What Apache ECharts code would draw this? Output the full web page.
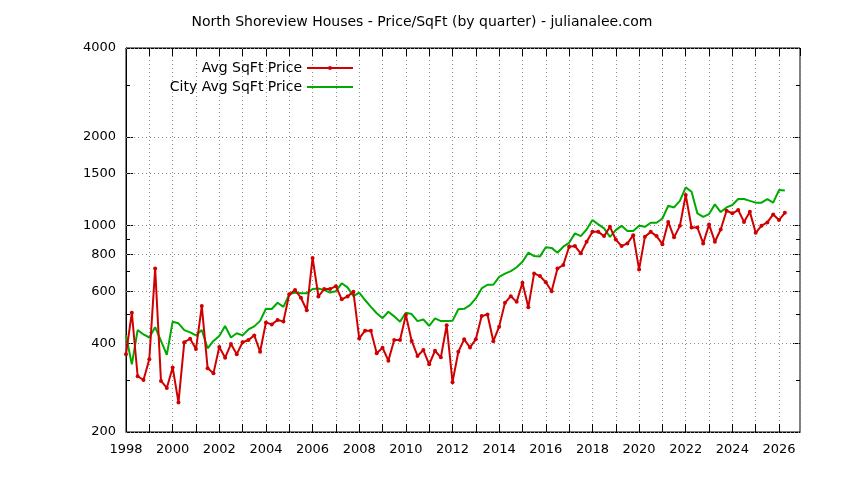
<!DOCTYPE html>
<html>
<head>
<meta charset="utf-8">
<script src="https://cdn.jsdelivr.net/npm/echarts@6/dist/echarts.min.js"></script>
<style>
  html, body { margin: 0; padding: 0; background: #fff; }
  #chart { width: 844px; height: 480px; }
</style>
</head>
<body>
<div id="chart"></div>
<script>
// 季度数据，从 1998 Q1 开始
var firstYear = 1998;

var avgSqftPrice = [
  367, 507, 309, 300,   353, 716, 298, 282,   331, 252, 403, 414,
  382, 534, 329, 316,   388, 357, 397, 367,   403, 410, 425, 374,
  470, 463, 479, 474,   586, 605, 570, 517,   778, 576, 610, 610,
  624, 563, 576, 597,   415, 441, 441, 370,   386, 349, 410, 410,
  498, 407, 362, 379,   339, 377, 358, 460,   295, 374, 412, 387,
  412, 494, 500, 406,   455, 548, 577, 552,   641, 529, 689, 675,
  643, 600, 716, 736,   849, 853, 806, 882,   953, 953, 922, 991,
  898, 853, 871, 929,   711, 917, 953, 922,   866, 1030, 913, 999,
  1270, 986, 986, 871,  1010, 882, 971, 1124, 1101, 1130, 1030, 1114,
  946, 1000, 1026, 1092, 1045, 1106
];

var cityAvgSqftPrice = [
  426, 339, 443, 428,   418, 453, 407, 365,   473, 467, 443, 435,
  425, 443, 384, 407,   423, 457, 418, 432,   425, 445, 456, 476,
  523, 522, 548, 531,   585, 594, 590, 590,   610, 613, 605, 594,
  600, 638, 618, 577,   593, 560, 531, 505,   486, 511, 493, 473,
  507, 502, 475, 481,   458, 485, 475, 475,   476, 521, 523, 538,
  567, 613, 631, 631,   671, 688, 702, 723,   755, 810, 789, 787,
  845, 841, 810, 849,   875, 942, 922, 971,   1045, 1010, 979, 917,
  966, 999, 959, 959,   999, 991, 1023, 1023, 1058, 1168, 1153, 1214,
  1348, 1303, 1101, 1072, 1095, 1181, 1112, 1153, 1175, 1231, 1231, 1214,
  1197, 1197, 1231, 1197, 1320, 1316
];

// 坐标轴刻度
var yLabelTicks = [200, 400, 600, 800, 1000, 1500, 2000, 4000];
var yMinorTicks = [300, 500, 700, 900, 3000];

function toPairs(values) {
  var out = [];
  for (var i = 0; i < values.length; i++) {
    out.push([firstYear + i / 4, values[i]]);
  }
  return out;
}

var FONT = 'DejaVu Sans';
var GRID_COLOR = '#8c8c8c';

function yAxisDef(pos, ticks, len, withLabels) {
  return {
    type: 'log',
    logBase: 10,
    min: 200,
    max: 4000,
    position: pos,
    axisLine: { show: withLabels, lineStyle: { color: '#000', width: 1 } },
    axisTick: { show: true, inside: true, length: len, customValues: ticks, lineStyle: { color: '#000' } },
    axisLabel: {
      show: withLabels,
      customValues: ticks,
      margin: 10,
      color: '#000',
      fontFamily: FONT,
      fontSize: 13,
      formatter: function (v) { return String(Math.round(v)); }
    },
    splitLine: { show: false },
    minorTick: { show: false },
    minorSplitLine: { show: false }
  };
}

function xAxisDef(pos, withLabels) {
  return {
    type: 'value',
    position: pos,
    min: 1998,
    max: 2026.9,
    interval: 1,
    axisLine: { show: true, onZero: false, lineStyle: { color: '#000', width: 1 } },
    axisTick: { show: true, inside: true, length: 8, lineStyle: { color: '#000' } },
    axisLabel: {
      show: withLabels,
      margin: 11,
      color: '#000',
      fontFamily: FONT,
      fontSize: 13,
      showMaxLabel: false,
      formatter: function (v) {
        return (v % 2 === 0) ? String(v) : '';
      }
    },
    splitLine: withLabels
      ? { show: true, lineStyle: { color: GRID_COLOR, width: 1, type: [1, 3] } }
      : { show: false }
  };
}

// 水平网格线（对数轴上用 markLine 画）
var hGridLines = yLabelTicks.map(function (v) { return { yAxis: v }; });

var legendText = { fontFamily: FONT, fontSize: 14, color: '#000' };

var chart = echarts.init(document.getElementById('chart'));
var option = {
  animation: false,
  backgroundColor: '#fff',
  title: {
    text: 'North Shoreview Houses - Price/SqFt (by quarter) - julianalee.com',
    left: 'center',
    top: 10,
    textStyle: { fontFamily: FONT, fontSize: 14, fontWeight: 'normal', color: '#000' }
  },
  legend: [
    {
      data: ['Avg SqFt Price'],
      right: 485,
      top: 56,
      align: 'right',
      itemWidth: 46,
      itemHeight: 5,
      textStyle: legendText
    },
    {
      data: ['City Avg SqFt Price'],
      right: 485,
      top: 75,
      align: 'right',
      itemWidth: 46,
      itemHeight: 5,
      itemStyle: { opacity: 0 },
      textStyle: legendText
    }
  ],
  grid: {
    left: 126,
    right: 44,
    top: 48,
    bottom: 48,
    show: true,
    borderColor: '#000',
    borderWidth: 1
  },
  xAxis: [xAxisDef('bottom', true), xAxisDef('top', false)],
  yAxis: [
    yAxisDef('left', yLabelTicks, 7, true),
    yAxisDef('right', yLabelTicks, 7, false),
    yAxisDef('left', yMinorTicks, 4, false),
    yAxisDef('right', yMinorTicks, 4, false)
  ],
  series: [
    {
      name: 'Avg SqFt Price',
      type: 'line',
      xAxisIndex: 0,
      yAxisIndex: 0,
      data: toPairs(avgSqftPrice),
      symbol: 'circle',
      symbolSize: 4,
      showSymbol: true,
      lineStyle: { color: '#d00000', width: 2 },
      itemStyle: { color: '#d00000' },
      z: 3
    },
    {
      name: 'City Avg SqFt Price',
      type: 'line',
      xAxisIndex: 0,
      yAxisIndex: 0,
      data: toPairs(cityAvgSqftPrice),
      symbol: 'none',
      lineStyle: { color: '#00aa00', width: 2 },
      itemStyle: { color: '#00aa00' },
      z: 2,
      markLine: {
        silent: true,
        z: 1,
        symbol: 'none',
        label: { show: false },
        lineStyle: { color: GRID_COLOR, width: 1, type: [1, 3] },
        emphasis: { disabled: true },
        data: hGridLines
      }
    }
  ]
};
chart.setOption(option);

window.addEventListener('resize', function () {
  chart.resize();
});
</script>
</body>
</html>
